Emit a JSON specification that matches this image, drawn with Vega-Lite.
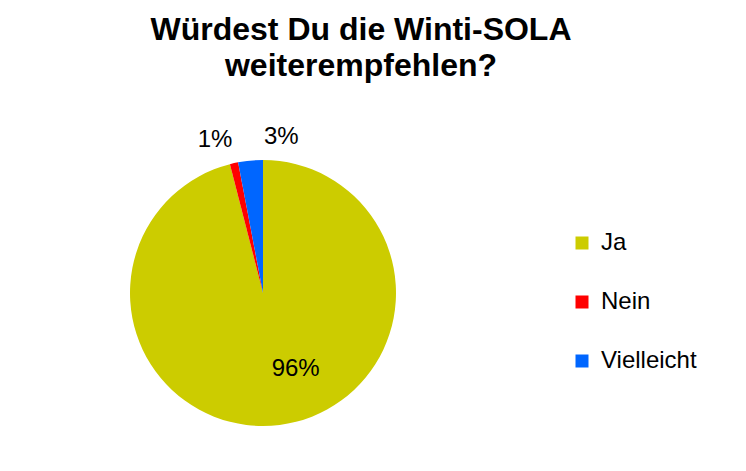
{
  "$schema": "https://vega.github.io/schema/vega-lite/v6.json",
  "autosize": "none",
  "width": 526,
  "height": 266,
  "padding": {"left": 0, "top": 160, "right": 220, "bottom": 45},
  "background": "white",
  "config": {"view": {"stroke": null}, "font": "Liberation Sans"},
  "title": {
    "text": ["Würdest Du die Winti-SOLA", "weiterempfehlen?"],
    "font": "Liberation Sans",
    "fontSize": 32,
    "fontWeight": "bold",
    "color": "black",
    "lineHeight": 36,
    "anchor": "middle",
    "dx": 98,
    "offset": 42
  },
  "data": {
    "values": [
      {"antwort": "Ja", "anteil": 96, "label": "96%"},
      {"antwort": "Nein", "anteil": 1, "label": "1%"},
      {"antwort": "Vielleicht", "anteil": 3, "label": "3%"}
    ]
  },
  "encoding": {
    "theta": {"field": "anteil", "type": "quantitative", "stack": true},
    "order": {"field": "antwort", "type": "nominal", "sort": "ascending"}
  },
  "layer": [
    {
      "mark": {"type": "arc", "outerRadius": 133, "stroke": null},
      "encoding": {
        "color": {
          "field": "antwort",
          "type": "nominal",
          "scale": {"domain": ["Ja", "Nein", "Vielleicht"], "range": ["#CCCC00", "#FF0000", "#0066FF"]},
          "legend": {
            "title": null,
            "orient": "none",
            "legendX": 570,
            "legendY": 71,
            "padding": 0,
            "symbolType": "square",
            "symbolSize": 169,
            "symbolStrokeWidth": 0,
            "labelFont": "Liberation Sans",
            "labelFontSize": 24,
            "labelColor": "black",
            "labelOffset": 7,
            "rowPadding": 35,
            "labelLimit": 300
          }
        }
      }
    },
    {
      "mark": {"type": "text", "radius": 85, "dx": 22, "dy": -8, "fontSize": 24, "font": "Liberation Sans", "color": "black", "baseline": "middle", "align": "center"},
      "encoding": {
        "text": {"condition": {"test": "datum.antwort === 'Ja'", "field": "label"}, "value": ""}
      }
    },
    {
      "mark": {"type": "text", "radius": 156, "dx": -14, "dy": -1, "fontSize": 24, "font": "Liberation Sans", "color": "black", "baseline": "middle", "align": "center"},
      "encoding": {
        "text": {"condition": {"test": "datum.antwort === 'Nein'", "field": "label"}, "value": ""}
      }
    },
    {
      "mark": {"type": "text", "radius": 156, "dx": 33, "dy": -1, "fontSize": 24, "font": "Liberation Sans", "color": "black", "baseline": "middle", "align": "center"},
      "encoding": {
        "text": {"condition": {"test": "datum.antwort === 'Vielleicht'", "field": "label"}, "value": ""}
      }
    }
  ]
}
